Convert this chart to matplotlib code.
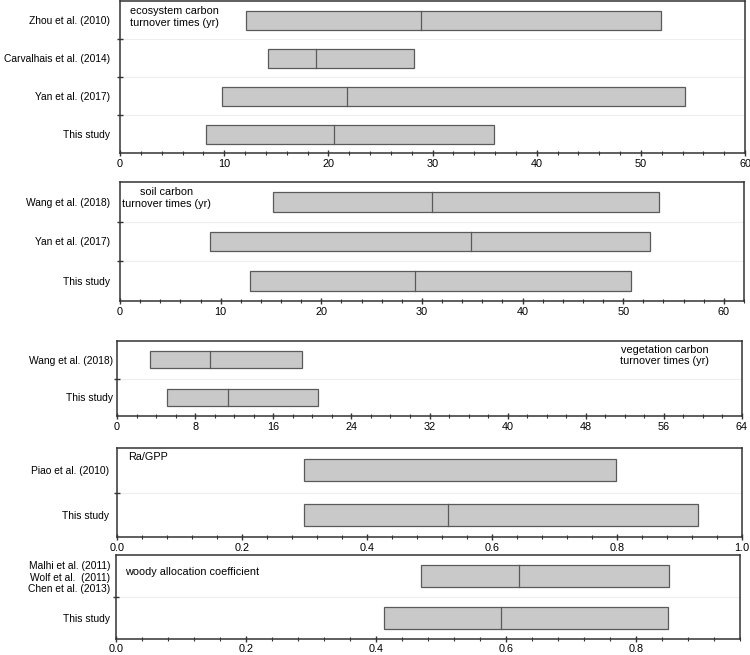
import matplotlib
matplotlib.use('Agg')
import matplotlib.pyplot as plt
from matplotlib.ticker import MultipleLocator

plt.rcParams['font.family'] = ['Liberation Sans', 'DejaVu Sans']
plt.rcParams['font.size'] = 7.8

# ecosystem carbon turnover times (yr)
eco_labels = ['Zhou et al. (2010)', 'Carvalhais et al. (2014)', 'Yan et al. (2017)', 'This study']
eco_low = [12.1, 14.2, 9.8, 8.3]
eco_med = [28.9, 18.8, 21.8, 20.5]
eco_high = [51.9, 28.2, 54.2, 35.9]

# soil carbon turnover times (yr)
soil_labels = ['Wang et al. (2018)', 'Yan et al. (2017)', 'This study']
soil_low = [15.2, 8.9, 12.9]
soil_med = [31.0, 34.9, 29.3]
soil_high = [53.6, 52.7, 50.8]

# vegetation carbon turnover times (yr)
veg_labels = ['Wang et al. (2018)', 'This study']
veg_low = [3.4, 5.15]
veg_med = [9.5, 11.4]
veg_high = [18.9, 20.6]

# Ra/GPP
ra_labels = ['Piao et al. (2010)', 'This study']
ra_low = [0.299, 0.299]
ra_med = [None, 0.529]
ra_high = [0.799, 0.929]

# woody allocation coefficient
wood_labels = ['Malhi et al. (2011)\nWolf et al.  (2011)\nChen et al. (2013)', 'This study']
wood_low = [0.470, 0.413]
wood_med = [0.620, 0.592]
wood_high = [0.851, 0.849]

W, H = 750, 655
fill = '#c9c9c9'
edge = '#5a5a5a'
spine = '#333333'


def px_rect(left, right, top, bottom):
    return [left / W, 1 - bottom / H, (right - left) / W, (bottom - top) / H]


def draw(ax, labels, low, med, high, xmax, major, minor, height, pad):
    n = len(labels)
    ys = list(range(n))
    widths = [h - l for l, h in zip(low, high)]
    ax.barh(ys, widths, left=low, height=height, color=fill,
            edgecolor=edge, linewidth=0.9, zorder=2)
    for i, m in enumerate(med):
        if m is not None:
            ax.plot([m, m], [i - height / 2, i + height / 2], color=edge,
                    lw=0.9, zorder=3)
    ax.set_ylim(n - 0.5, -0.5)
    ax.set_xlim(0, xmax)
    ax.set_yticks(ys)
    ax.set_yticklabels(labels, fontsize=7.4)
    for lbl in ax.get_yticklabels():
        lbl.set_multialignment('right')
    ax.set_yticks([i + 0.5 for i in range(n - 1)], minor=True)
    ax.tick_params(axis='y', which='major', length=0, pad=pad)
    ax.tick_params(axis='y', which='minor', direction='inout', length=5,
                   width=1, color=spine)
    ax.xaxis.set_major_locator(MultipleLocator(major))
    ax.xaxis.set_minor_locator(MultipleLocator(minor))
    ax.tick_params(axis='x', which='major', direction='inout', length=5,
                   width=1, color=spine, pad=2)
    ax.tick_params(axis='x', which='minor', direction='inout', length=3,
                   width=0.8, color=spine)
    ax.grid(axis='y', which='minor', color='#eeeeee', lw=0.8)
    ax.set_axisbelow(True)
    for s in ax.spines.values():
        s.set_color(spine)
        s.set_linewidth(1.1)


fig = plt.figure(figsize=(7.5, 6.55), dpi=100)

ax1 = fig.add_axes(px_rect(120, 745, 1, 153))
draw(ax1, eco_labels, eco_low, eco_med, eco_high, 60, 10, 2, 0.5, 7)
ax1.text(0.087, 0.965, 'ecosystem carbon\nturnover times (yr)', transform=ax1.transAxes,
         ha='center', va='top')

ax2 = fig.add_axes(px_rect(120, 744, 182, 301))
draw(ax2, soil_labels, soil_low, soil_med, soil_high, 62, 10, 2, 0.5, 7)
ax2.text(0.074, 0.955, 'soil carbon\nturnover times (yr)', transform=ax2.transAxes,
         ha='center', va='top')

ax3 = fig.add_axes(px_rect(117, 742, 341, 416))
draw(ax3, veg_labels, veg_low, veg_med, veg_high, 64, 8, 2, 0.45, 3)
ax3.text(0.876, 0.95, 'vegetation carbon\nturnover times (yr)', transform=ax3.transAxes,
         ha='center', va='top')

ax4 = fig.add_axes(px_rect(117, 742, 448, 537))
draw(ax4, ra_labels, ra_low, ra_med, ra_high, 1.0, 0.2, 0.04, 0.5, 6)
ax4.text(0.018, 0.96, 'Ra/GPP', transform=ax4.transAxes, ha='left', va='top')

ax5 = fig.add_axes(px_rect(116, 740, 555, 639))
draw(ax5, wood_labels, wood_low, wood_med, wood_high, 0.96, 0.2, 0.04, 0.53, 4)
ax5.tick_params(axis='x', which='major', pad=1)
ax5.text(0.014, 0.86, 'woody allocation coefficient', transform=ax5.transAxes,
         ha='left', va='top')

fig.savefig('out.png', dpi=100)
